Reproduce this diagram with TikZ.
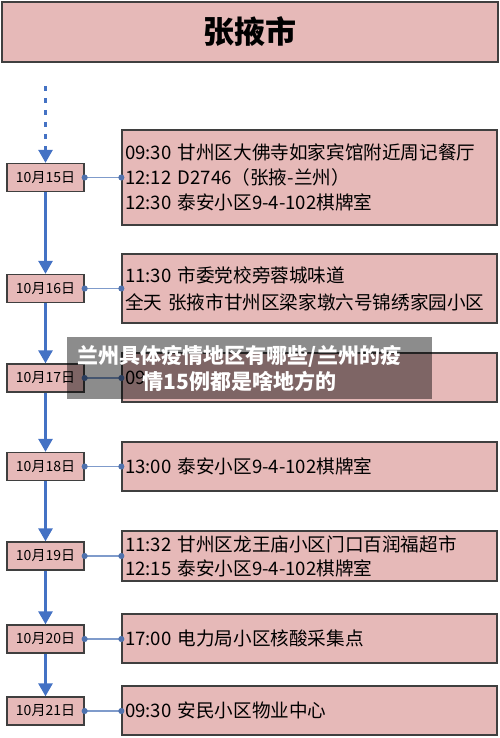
\documentclass[tikz,border=0pt]{standalone}
\usepackage{fontspec}
\setmainfont{Noto Sans CJK SC}
\usetikzlibrary{arrows.meta}
\definecolor{boxfill}{HTML}{E6B9B8}
\definecolor{boxline}{HTML}{3F3F3F}
\definecolor{flow}{HTML}{4472C4}
\definecolor{link}{HTML}{7F9BCB}
\definecolor{linkdot}{HTML}{4F72AE}

\begin{document}
\begin{tikzpicture}[x=1pt,y=-1pt,
    datebox/.style={draw=boxline,line width=1.3pt,fill=boxfill,minimum width=77pt,
      minimum height=28pt,inner sep=0pt,font=\fontsize{14}{16}\selectfont},
    infobox/.style={draw=boxline,line width=1.3pt,fill=boxfill,text width=369pt,
      inner xsep=3pt,align=left,font=\fontsize{18.6}{25}\selectfont},
    flowarrow/.style={-{Triangle[width=14pt,length=13pt]},line width=2.6pt,flow},
    linkline/.style={{Circle[length=6pt,color=linkdot]}-{Circle[length=6pt,color=linkdot]},
      shorten <=-3pt,shorten >=-3pt,link,line width=1.4pt}]

  \useasboundingbox (0,0) rectangle (500,738);

  % City heading.
  \node[draw=boxline,line width=1.5pt,fill=boxfill,minimum width=496pt,minimum height=60pt,
        font=\fontsize{31}{33}\selectfont\bfseries] (title) at (250,32) {张掖市};

  % Dates down the left.
  \node[datebox] (d15) at (45.5,177.5) {10月15日};
  \node[datebox] (d16) at (45.5,288.5) {10月16日};
  \node[datebox] (d17) at (45.5,378) {10月17日};
  \node[datebox] (d18) at (45.5,466.5) {10月18日};
  \node[datebox] (d19) at (45.5,556) {10月19日};
  \node[datebox] (d20) at (45.5,639) {10月20日};
  \node[datebox] (d21) at (45.5,711) {10月21日};

  % Places visited on each day.
  \node[infobox,minimum height=95pt] (i15) at (309.5,177.5)
       {09:30 甘州区大佛寺如家宾馆附近周记餐厅\\12:12 D2746（张掖-兰州）\\12:30 泰安小区9-4-102棋牌室};
  \node[infobox,minimum height=69pt,font=\fontsize{18.6}{27}\selectfont] (i16) at (309.5,288.5)
       {11:30 市委党校旁蓉城味道\\全天 张掖市甘州区梁家墩六号锦绣家园小区};
  \node[infobox,minimum height=49pt] (i17) at (309.5,377.5) {09};
  \node[infobox,minimum height=49pt] (i18) at (309.5,466.5) {13:00 泰安小区9-4-102棋牌室};
  \node[infobox,minimum height=50pt,font=\fontsize{18.6}{24}\selectfont] (i19) at (309.5,556)
       {11:32 甘州区龙王庙小区门口百润福超市\\12:15 泰安小区9-4-102棋牌室};
  \node[infobox,minimum height=49pt] (i20) at (309.5,638.5) {17:00 电力局小区核酸采集点};
  \node[infobox,minimum height=49pt] (i21) at (309.5,710.5) {09:30 安民小区物业中心};

  % Day to day.
  \coordinate (start) at (45.5,86);
  \draw[flowarrow,dash pattern=on 5pt off 7pt] (start) -- (d15.north);
  \draw[flowarrow] (d15.south) -- (d16.north);
  \draw[flowarrow] (d16.south) -- (d17.north);
  \draw[flowarrow] (d17.south) -- (d18.north);
  \draw[flowarrow] (d18.south) -- (d19.north);
  \draw[flowarrow] (d19.south) -- (d20.north);
  \draw[flowarrow] (d20.south) -- (d21.north);

  % Date to places.
  \draw[linkline] (d15.east) -- (d15.east -| i15.west);
  \draw[linkline] (d16.east) -- (d16.east -| i16.west);
  \draw[linkline] (d17.east) -- (d17.east -| i17.west);
  \draw[linkline] (d18.east) -- (d18.east -| i18.west);
  \draw[linkline] (d19.east) -- (d19.east -| i19.west);
  \draw[linkline] (d20.east) -- (d20.east -| i20.west);
  \draw[linkline] (d21.east) -- (d21.east -| i21.west);

  % Caption band laid over the picture.
  \node[fill=black,fill opacity=0.45,minimum width=365pt,minimum height=62pt,inner sep=0pt]
       (banner) at (249.5,368) {};
  \node[text=white,align=center,font=\fontsize{21}{26}\selectfont\bfseries]
       (bannertext) at ([xshift=-10pt]banner.center) {兰州具体疫情地区有哪些/兰州的疫\\情15例都是啥地方的};
\end{tikzpicture}
\end{document}
